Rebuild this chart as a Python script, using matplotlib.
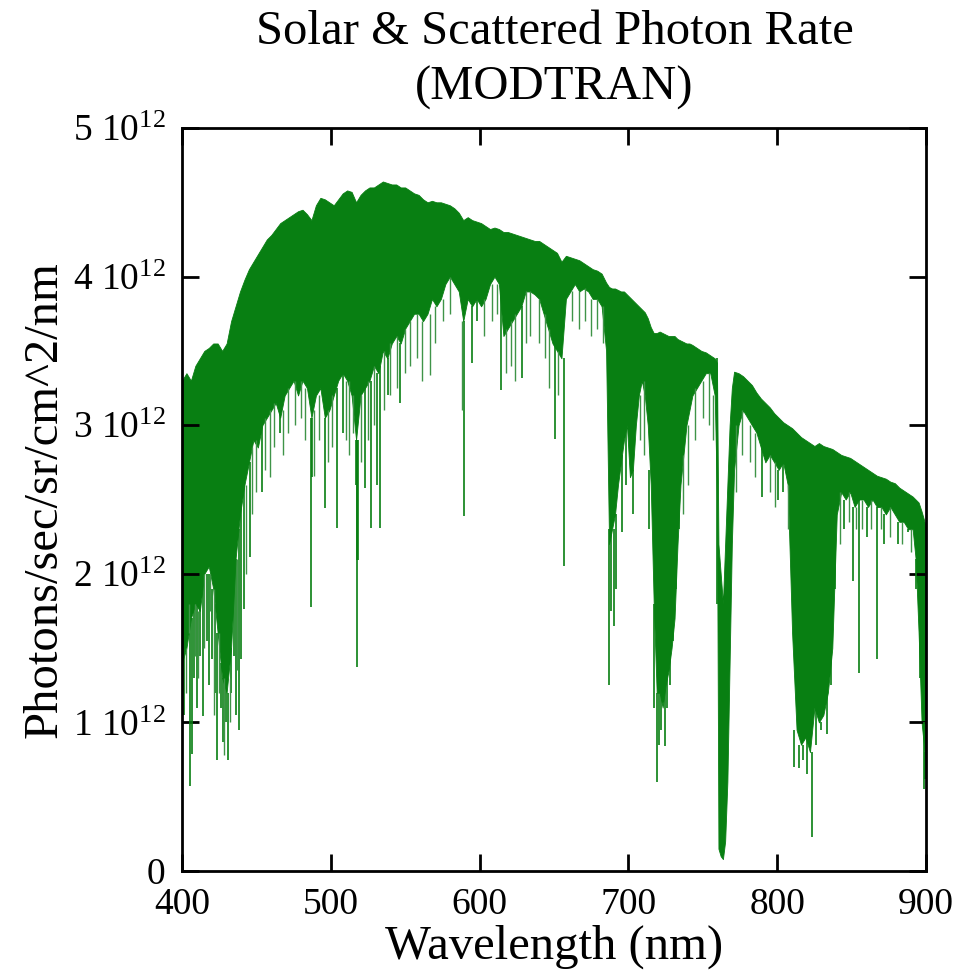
import matplotlib
matplotlib.use('Agg')
import matplotlib.pyplot as plt

plt.rcParams['font.family'] = ['Liberation Serif', 'DejaVu Serif']
plt.rcParams['mathtext.fontset'] = 'custom'
plt.rcParams['mathtext.rm'] = 'Liberation Serif'
plt.rcParams['mathtext.it'] = 'Liberation Serif:italic'

# photon rate, units of 1e12 photons/sec/sr/cm^2/nm
band_wl = [400, 403, 406, 409, 412, 415, 418, 421, 424, 427, 430, 433, 436, 439,
           442, 445, 448, 451, 454, 457, 460, 463, 466, 469, 472, 475, 478, 481,
           484, 487, 490, 493, 496, 499, 502, 505, 508, 511, 514, 517, 520, 523,
           526, 529, 532, 535, 538, 541, 544, 547, 550, 553, 556, 559, 562, 565,
           568, 571, 574, 577, 580, 583, 586, 589, 592, 595, 598, 601, 604, 607,
           610, 613, 616, 619, 622, 625, 628, 631, 634, 637, 640, 643, 646, 649,
           652, 655, 658, 661, 664, 667, 670, 673, 676, 679, 682, 685, 687, 689,
           691, 693, 695, 697, 699, 701, 703, 705, 707, 709, 711, 713, 715, 717,
           719, 721, 723, 725, 727, 729, 731, 733, 735, 737, 739, 741, 743, 746,
           749, 752, 755, 758, 759.5, 760.5, 762, 763.5, 765, 766.5, 768, 769.5,
           771, 774, 777, 780, 783, 786, 789, 792, 795, 798, 801, 804, 807, 810,
           813, 816, 819, 822, 825, 828, 831, 834, 837, 840, 843, 846, 849, 852,
           855, 858, 861, 864, 867, 870, 873, 876, 879, 882, 885, 888, 891, 893,
           895, 897, 899, 900]
band_top = [3.30, 3.35, 3.30, 3.40, 3.45, 3.50, 3.52, 3.55, 3.55, 3.50, 3.55, 3.70,
            3.80, 3.90, 3.98, 4.05, 4.10, 4.15, 4.20, 4.25, 4.28, 4.32, 4.36, 4.38,
            4.40, 4.42, 4.44, 4.45, 4.42, 4.38, 4.48, 4.53, 4.52, 4.50, 4.48, 4.52,
            4.56, 4.58, 4.57, 4.50, 4.55, 4.58, 4.60, 4.60, 4.62, 4.64, 4.63, 4.62,
            4.62, 4.60, 4.60, 4.58, 4.56, 4.55, 4.52, 4.50, 4.51, 4.50, 4.50, 4.49,
            4.48, 4.46, 4.43, 4.38, 4.40, 4.38, 4.37, 4.36, 4.34, 4.32, 4.33, 4.32,
            4.30, 4.30, 4.29, 4.28, 4.27, 4.26, 4.25, 4.24, 4.24, 4.22, 4.20, 4.18,
            4.16, 4.10, 4.14, 4.13, 4.12, 4.11, 4.09, 4.07, 4.05, 4.04, 4.02, 3.96,
            3.93, 3.92, 3.92, 3.91, 3.90, 3.90, 3.88, 3.86, 3.84, 3.82, 3.80, 3.78,
            3.76, 3.72, 3.66, 3.62, 3.62, 3.63, 3.62, 3.61, 3.60, 3.60, 3.60, 3.58,
            3.57, 3.56, 3.55, 3.55, 3.54, 3.52, 3.50, 3.49, 3.47, 3.45, 3.42, 2.20,
            2.00, 1.80, 2.20, 2.60, 3.00, 3.25, 3.36, 3.35, 3.33, 3.30, 3.27, 3.22,
            3.18, 3.15, 3.12, 3.08, 3.05, 3.02, 3.00, 2.98, 2.95, 2.92, 2.90, 2.88,
            2.86, 2.88, 2.86, 2.85, 2.84, 2.82, 2.80, 2.79, 2.78, 2.76, 2.74, 2.72,
            2.70, 2.68, 2.66, 2.65, 2.64, 2.62, 2.61, 2.58, 2.56, 2.54, 2.52, 2.50,
            2.48, 2.42, 2.35, 2.30]
band_low = [1.40, 1.50, 1.70, 1.80, 1.75, 2.00, 2.05, 1.90, 1.60, 1.30, 1.20, 1.50,
            2.10, 2.40, 2.60, 2.75, 2.90, 2.85, 3.00, 3.05, 3.10, 3.15, 3.05, 3.20,
            3.25, 3.30, 3.20, 3.30, 3.25, 3.05, 3.20, 3.25, 3.05, 3.10, 3.20, 3.30,
            3.35, 3.30, 3.20, 2.90, 3.20, 3.25, 3.30, 3.40, 3.35, 3.50, 3.45, 3.55,
            3.60, 3.55, 3.65, 3.70, 3.75, 3.75, 3.70, 3.75, 3.85, 3.80, 3.85, 3.95,
            4.00, 3.95, 3.90, 3.70, 3.85, 3.80, 3.85, 3.80, 3.85, 3.95, 4.00, 3.95,
            3.60, 3.65, 3.70, 3.75, 3.80, 3.90, 3.90, 3.88, 3.85, 3.75, 3.65, 3.55,
            3.50, 3.45, 3.85, 3.90, 3.95, 3.90, 3.92, 3.90, 3.85, 3.85, 3.80, 3.50,
            2.20, 2.30, 2.40, 2.60, 2.75, 2.90, 3.00, 2.65, 2.70, 3.00, 3.20, 3.30,
            3.20, 3.00, 2.60, 1.80, 1.20, 1.20, 1.10, 1.25, 1.35, 1.50, 1.70, 2.20,
            2.60, 2.80, 3.00, 3.10, 3.20, 3.25, 3.30, 3.35, 3.35, 3.20, 2.50, 0.15,
            0.10, 0.08, 0.20, 0.60, 1.40, 2.20, 2.70, 3.00, 3.10, 3.05, 3.00, 2.95,
            2.85, 2.75, 2.80, 2.75, 2.70, 2.75, 2.60, 1.60, 0.95, 0.85, 0.90, 0.80,
            1.10, 1.00, 1.05, 1.20, 1.50, 2.40, 2.55, 2.50, 2.55, 2.45, 2.50, 2.50,
            2.45, 2.50, 2.45, 2.45, 2.40, 2.45, 2.40, 2.35, 2.35, 2.30, 2.30, 2.10,
            1.60, 1.00, 0.80, 0.70]

# strong absorption lines reaching below the dense band
line_wl = [401.5, 405.3, 406.5, 408, 410.2, 412, 414, 416.5, 418, 420, 422, 423.5,
           426, 427.5, 429.5, 431, 433, 435, 436.5, 438, 440, 441.5, 445.7, 453.5,
           466, 486.5, 487.5, 495.8, 504, 508, 516.7, 517.3, 517.8, 518.3, 523,
           527.2, 531, 533, 538.6, 546.5, 589.2, 595, 598, 614.5, 628.5, 650.7,
           656.6, 687, 688.5, 690, 691.5, 696, 698.5, 703, 714, 717.5, 719, 720.5,
           722, 724.6, 726, 728, 730, 732, 734, 759.8, 790, 800.5, 804, 811.5,
           814.5, 817, 820, 823.4, 826, 829.5, 833.5, 836, 838.5, 845, 851, 855,
           860, 867, 872, 881, 888, 893, 896, 898.5, 899.5]
line_lo = [1.05, 0.57, 0.79, 1.30, 1.10, 1.45, 1.04, 1.55, 1.25, 1.43, 1.20, 0.75,
           1.10, 0.87, 1.00, 0.75, 1.20, 1.45, 1.05, 0.95, 1.43, 1.76, 2.11, 2.55,
           2.95, 1.78, 2.65, 2.44, 2.31, 2.95, 2.60, 2.09, 1.37, 2.09, 2.58, 2.31,
           2.60, 2.31, 3.20, 3.15, 2.39, 3.42, 3.70, 3.24, 3.32, 2.91, 2.05, 1.25,
           1.75, 1.65, 1.90, 2.28, 2.60, 2.40, 2.30, 1.10, 0.60, 0.85, 0.95, 0.84,
           1.10, 1.25, 1.55, 1.90, 2.30, 1.80, 2.52, 2.50, 2.55, 0.70, 0.69, 0.75,
           0.65, 0.23, 0.85, 0.95, 0.92, 1.25, 1.90, 2.30, 1.95, 1.33, 2.25, 1.43,
           2.20, 2.20, 2.28, 1.90, 1.30, 0.55, 0.62]
line_hi = [1.50, 1.70, 1.70, 1.80, 1.80, 1.80, 2.00, 2.00, 2.00, 1.90, 1.80, 1.60,
           1.40, 1.30, 1.25, 1.20, 1.50, 2.00, 2.10, 2.30, 2.50, 2.60, 2.75, 3.00,
           3.10, 3.05, 3.05, 3.05, 3.25, 3.35, 2.90, 2.90, 2.90, 2.90, 3.25, 3.30,
           3.35, 3.40, 3.45, 3.55, 3.70, 3.80, 3.85, 3.95, 3.80, 3.55, 3.45, 2.30,
           2.30, 2.30, 2.40, 2.80, 3.00, 2.70, 2.70, 1.80, 1.20, 1.20, 1.20, 1.25,
           1.35, 1.50, 1.70, 2.20, 2.60, 3.45, 2.85, 2.70, 2.75, 0.95, 0.85, 0.85,
           0.90, 0.80, 1.10, 1.00, 1.20, 1.50, 2.40, 2.50, 2.45, 2.50, 2.45, 2.45,
           2.40, 2.35, 2.30, 2.10, 1.60, 1.00, 0.80]

# weaker lines dipping out of the dense band
weak_wl = [403, 404.5, 409, 411, 415, 419, 421.5, 425, 428.5, 432, 437, 443, 447,
           449.5, 456, 459, 462, 468, 471, 476, 480, 483, 489, 492, 498, 501, 510,
           512.5, 515, 520.5, 525, 529, 536, 540, 544.5, 550, 553, 558, 561, 566.6,
           570, 575.5, 580, 588.5, 603, 608, 612, 618, 621, 624, 631, 634, 640,
           644, 646.6, 653, 662, 667, 671, 675, 679, 683, 708, 710.5, 737, 740,
           745, 750, 754, 757, 772, 776, 782, 785, 795, 798.5, 807, 842, 848, 853,
           857, 863, 870, 876, 884, 890]
weak_lo = [1.20, 1.60, 1.45, 1.30, 1.50, 1.75, 1.05, 1.20, 0.78, 1.00, 1.35, 2.00,
           2.40, 2.55, 2.70, 2.65, 2.85, 2.80, 2.95, 3.00, 3.05, 2.90, 2.66, 2.90,
           2.75, 2.85, 2.90, 2.80, 2.95, 2.75, 2.90, 3.00, 3.10, 3.20, 3.25, 3.35,
           3.40, 3.45, 3.30, 3.34, 3.55, 3.70, 3.75, 3.10, 3.60, 3.70, 3.75, 3.35,
           3.40, 3.30, 3.55, 3.60, 3.55, 3.45, 3.25, 3.20, 3.70, 3.65, 3.70, 3.60,
           3.65, 3.55, 2.90, 2.80, 2.40, 2.60, 2.90, 3.05, 3.00, 2.90, 2.55, 2.80,
           2.75, 2.65, 2.55, 2.45, 2.30, 2.20, 2.35, 2.30, 2.30, 2.30, 2.30, 2.25,
           2.20, 2.15]
weak_hi = [1.50, 1.80, 1.80, 1.75, 2.00, 2.00, 1.90, 1.60, 1.30, 1.30, 2.10, 2.60,
           2.85, 2.90, 3.05, 3.10, 3.15, 3.10, 3.25, 3.30, 3.30, 3.25, 3.10, 3.20,
           3.10, 3.20, 3.30, 3.30, 3.20, 3.20, 3.30, 3.40, 3.50, 3.55, 3.60, 3.65,
           3.70, 3.75, 3.70, 3.75, 3.80, 3.85, 4.00, 3.70, 3.85, 3.95, 3.95, 3.65,
           3.70, 3.75, 3.90, 3.90, 3.85, 3.75, 3.65, 3.50, 3.90, 3.90, 3.92, 3.85,
           3.85, 3.80, 3.20, 3.30, 2.80, 3.00, 3.25, 3.30, 3.35, 3.20, 3.00, 3.10,
           3.00, 2.95, 2.80, 2.75, 2.60, 2.55, 2.55, 2.45, 2.50, 2.50, 2.45, 2.45,
           2.35, 2.30]

green = '#087f12'
pale_green = '#3f9448'

fig = plt.figure(figsize=(9.71, 9.80), dpi=100)
ax = fig.add_axes([0.1874, 0.1112, 0.7663, 0.7582])

ax.fill_between(band_wl, band_low, band_top, color=green, lw=0.6)
ax.vlines(line_wl, line_lo, line_hi, color=green, lw=1.2)
ax.vlines(weak_wl, weak_lo, weak_hi, color=pale_green, lw=1.0)

ax.set_xlim(400, 900)
ax.set_ylim(0, 5)
ax.set_xticks([400, 500, 600, 700, 800, 900])
ax.set_yticks([0, 1, 2, 3, 4, 5])
ax.set_yticklabels(['0'] + ['%d 10$^{12}$' % k for k in range(1, 6)])

ax.tick_params(direction='in', length=12, width=2, top=True, right=True,
               labelsize=27, pad=12)
for s in ax.spines.values():
    s.set_linewidth(2)

ax.set_xlabel('Wavelength (nm)', fontsize=35, labelpad=2)
ax.set_ylabel('Photons/sec/sr/cm^2/nm', fontsize=35, labelpad=4)

fig.text(0.571, 0.967, 'Solar & Scattered Photon Rate', fontsize=35,
         ha='center', va='center')
fig.text(0.571, 0.910, '(MODTRAN)', fontsize=35, ha='center', va='center')

fig.savefig('out.png', dpi=100)
